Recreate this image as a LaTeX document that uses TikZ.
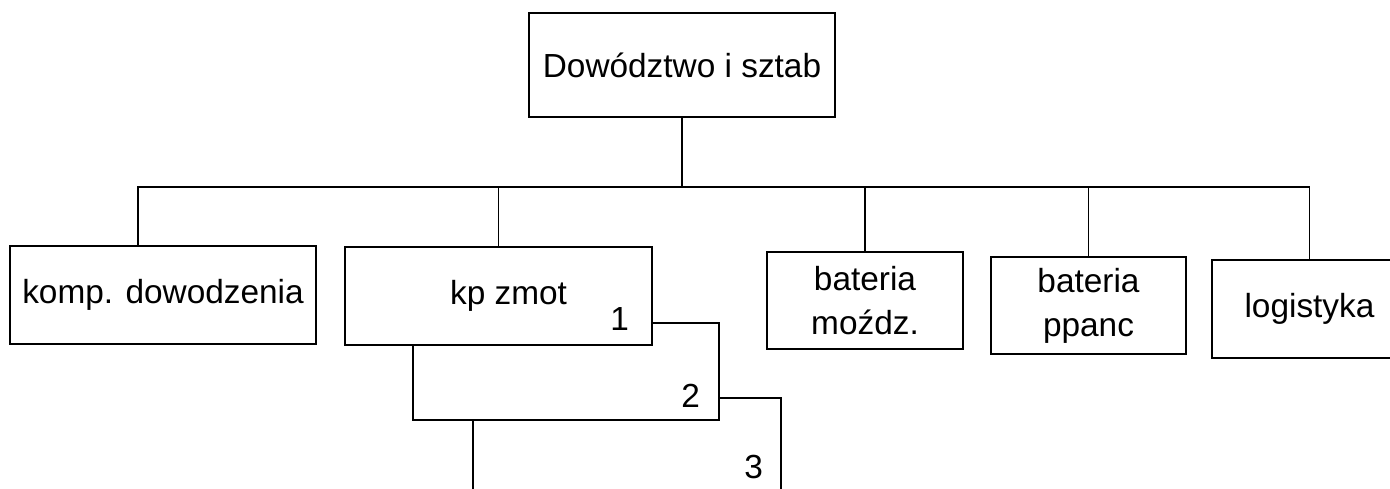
\documentclass[tikz,border=0pt]{standalone}
\usepackage{fontspec}
\setmainfont{Liberation Sans}
\usetikzlibrary{positioning}
\begin{document}
\begin{tikzpicture}[x=0.02cm,y=-0.02cm,line width=1pt,
    caja/.style={draw,fill=white,inner sep=0pt,align=center,font=\fontsize{19}{25}\selectfont},
    numero/.style={anchor=base east,inner sep=0pt,font=\fontsize{19}{23}\selectfont}]
    \useasboundingbox (0,0) rectangle (1390,489);
    \clip (0,0) rectangle (1390,489);
    % dowodztwo
    \node[caja,minimum width=6.12cm,minimum height=2.08cm] (top) at (682,65) {Dowództwo i sztab};
    % kompanie (od tylu do przodu)
    \node[caja,minimum width=6.16cm,minimum height=1.96cm] (k3) at (627,447) {};
    \node[caja,minimum width=6.12cm,minimum height=1.94cm] (k2) at (566,371.5) {};
    \node[caja,minimum width=6.14cm,minimum height=1.96cm] (k1) at (498.5,296) {\hspace*{0.4cm}kp zmot};
    \node[numero] (n1) at ([xshift=-0.46cm,yshift=0.3cm]k1.south east) {1};
    \node[numero] (n2) at ([xshift=-0.38cm,yshift=0.26cm]k2.south east) {2};
    \node[numero] (n3) at ([xshift=-0.36cm,yshift=0.36cm]k3.south east) {3};
    % pozostale
    \node[caja,minimum width=6.12cm,minimum height=1.96cm] (komp) at (163,295) {komp. dowodzenia};
    \node[caja,minimum width=3.92cm,minimum height=1.94cm] (moz) at (865,300.5) {bateria\\moźdz.};
    \node[caja,minimum width=3.9cm,minimum height=1.94cm] (ppanc) at (1088.5,305.5) {bateria\\ppanc};
    \node[caja,minimum width=3.9cm,minimum height=1.96cm] (log) at (1309.5,309) {logistyka};

    % linie
    \coordinate (bus) at (0,187);
    \coordinate (kd) at ([xshift=-0.5cm]komp.north);
    \draw (top.south) -- (top.south |- bus);
    \draw (kd) -- (kd |- bus) -- (log.north |- bus) -- (log.north);
    \foreach \n in {k1,moz,ppanc}
        \draw (\n.north) -- (\n.north |- bus);
\end{tikzpicture}
\end{document}
